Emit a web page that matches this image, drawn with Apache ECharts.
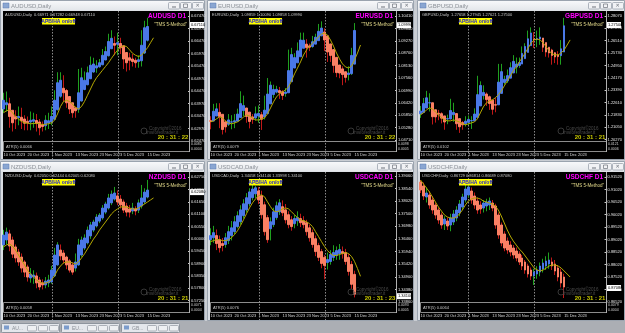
<!DOCTYPE html>
<html><head><meta charset="utf-8">
<script src="https://cdn.jsdelivr.net/npm/echarts@6/dist/echarts.min.js"></script>
<style>html,body{margin:0;padding:0;background:#c9cdd3;overflow:hidden}#c{width:625px;height:333px}</style>
</head><body><div id="c"></div>
<script>
// ---------- DATA ----------
const tickDates = ['10 Oct 2023','20 Oct 2023','1 Nov 2023','13 Nov 2023','23 Nov 2023','5 Dec 2023','15 Dec 2023'];
const monthStarts = [16, 38];

const audOpen  = [.6375,.6392,.6396,.6370,.6345,.6340,.6342,.6335,.6326,.6323,.6326,.6329,.6323,.6312,.6308,.6319,.6323,.6334,.6372,.6426,.6458,.6449,.6425,.6400,.6380,.6374,.6407,.6453,.6472,.6496,.6523,.6539,.6544,.6552,.6571,.6588,.6616,.6637,.6634,.6637,.6628,.6601,.6580,.6575,.6570,.6565,.6568,.6599,.6650];
const audClose = [.6410,.6400,.6345,.6320,.6335,.6345,.6328,.6318,.6320,.6330,.6332,.6318,.6300,.6305,.6330,.6328,.6345,.6410,.6480,.6490,.6440,.6400,.6375,.6360,.6368,.6440,.6500,.6490,.6520,.6550,.6555,.6548,.6560,.6590,.6605,.6645,.6658,.6630,.6640,.6620,.6575,.6560,.6570,.6565,.6560,.6572,.6630,.6700,.6705];
const audLow   = [.6360,.6365,.6300,.6285,.6295,.6310,.6295,.6290,.6290,.6290,.6300,.6285,.6270,.6285,.6290,.6295,.6310,.6330,.6370,.6420,.6405,.6380,.6355,.6340,.6340,.6360,.6405,.6450,.6470,.6495,.6520,.6520,.6540,.6550,.6570,.6585,.6615,.6590,.6590,.6595,.6535,.6525,.6530,.6545,.6540,.6540,.6545,.6595,.6645];
const audHigh  = [.6440,.6445,.6420,.6365,.6370,.6385,.6380,.6350,.6345,.6365,.6360,.6355,.6335,.6325,.6350,.6360,.6385,.6450,.6522,.6522,.6510,.6455,.6425,.6400,.6385,.6535,.6540,.6525,.6545,.6585,.6580,.6570,.6575,.6615,.6625,.6676,.6690,.6665,.6680,.6660,.6630,.6590,.6600,.6595,.6580,.6590,.6690,.6728,.6740];
const audMA    = [.6360,.6368,.6372,.6360,.6345,.6335,.6325,.6320,.6318,.6316,.6317,.6318,.6316,.6313,.6314,.6316,.6320,.6330,.6355,.6385,.6405,.6410,.6405,.6395,.6380,.6375,.6385,.6405,.6430,.6455,.6480,.6500,.6515,.6530,.6545,.6560,.6578,.6595,.6610,.6622,.6628,.6625,.6612,.6598,.6590,.6585,.6590,.6605,.6620,.6640,.6660];
const audTicks = [.6247,.6297,.6347,.6397,.6447,.6497,.6547,.6597,.6647,.6697,.6747];

const eurOpen  = [1.0560,1.0558,1.0581,1.0598,1.0589,1.0554,1.0543,1.0553,1.0554,1.0557,1.0574,1.0606,1.0618,1.0599,1.0577,1.0572,1.0581,1.0587,1.0577,1.0592,1.0637,1.0680,1.0691,1.0698,1.0693,1.0685,1.0688,1.0739,1.0802,1.0826,1.0854,1.0893,1.0912,1.0904,1.0901,1.0912,1.0928,1.0950,1.0968,1.0950,1.0913,1.0887,1.0851,1.0816,1.0798,1.0785,1.0772,1.0776,1.0820];
const eurClose = [1.0556,1.0603,1.0614,1.0579,1.0519,1.0531,1.0563,1.0554,1.0559,1.0590,1.0638,1.0629,1.0579,1.0556,1.0566,1.0591,1.0593,1.0566,1.0608,1.0682,1.0723,1.0703,1.0704,1.0688,1.0676,1.0691,1.0790,1.0864,1.0850,1.0881,1.0931,1.0930,1.0896,1.0898,1.0923,1.0944,1.0971,1.0986,1.0931,1.0876,1.0860,1.0814,1.0781,1.0779,1.0772,1.0759,1.0779,1.0860,1.0975];
const eurLow   = [1.0520,1.0575,1.0590,1.0525,1.0496,1.0505,1.0535,1.0520,1.0525,1.0565,1.0590,1.0580,1.0550,1.0524,1.0545,1.0560,1.0550,1.0517,1.0565,1.0620,1.0700,1.0665,1.0685,1.0660,1.0655,1.0670,1.0694,1.0830,1.0830,1.0840,1.0905,1.0905,1.0850,1.0880,1.0895,1.0925,1.0935,1.0960,1.0880,1.0830,1.0830,1.0780,1.0760,1.0755,1.0723,1.0735,1.0745,1.0770,1.0870];
const eurHigh  = [1.0580,1.0637,1.0640,1.0640,1.0540,1.0560,1.0590,1.0585,1.0590,1.0615,1.0695,1.0675,1.0610,1.0570,1.0590,1.0625,1.0630,1.0600,1.0675,1.0756,1.0740,1.0725,1.0720,1.0715,1.0700,1.0710,1.0887,1.0895,1.0870,1.0920,1.0965,1.0965,1.0935,1.0915,1.0950,1.0960,1.1005,1.1017,1.0985,1.0900,1.0890,1.0845,1.0805,1.0800,1.0810,1.0775,1.0810,1.0895,1.1009];
const eurMA    = [1.0554,1.0558,1.0568,1.0577,1.0572,1.0558,1.0549,1.0545,1.0549,1.0554,1.0563,1.0577,1.0586,1.0581,1.0572,1.0563,1.0563,1.0568,1.0572,1.0591,1.0618,1.0646,1.0669,1.0683,1.0692,1.0701,1.0715,1.0742,1.0775,1.0802,1.0830,1.0862,1.0885,1.0903,1.0917,1.0931,1.0945,1.0959,1.0963,1.0954,1.0931,1.0903,1.0871,1.0844,1.0821,1.0807,1.0802,1.0811,1.0839,1.0871,1.0908];
const eurTicks = [1.0471,1.0528,1.0585,1.0642,1.0699,1.0756,1.0813,1.0870,1.0927,1.0984,1.1041];

const gbpOpen  = [1.2190,1.2199,1.2227,1.2259,1.2260,1.2216,1.2194,1.2191,1.2177,1.2158,1.2158,1.2185,1.2192,1.2160,1.2135,1.2128,1.2136,1.2146,1.2146,1.2168,1.2240,1.2305,1.2315,1.2298,1.2277,1.2248,1.2247,1.2319,1.2388,1.2398,1.2415,1.2448,1.2485,1.2495,1.2504,1.2538,1.2577,1.2620,1.2660,1.2659,1.2662,1.2668,1.2639,1.2610,1.2592,1.2575,1.2562,1.2557,1.2580];
const gbpClose = [1.2208,1.2255,1.2291,1.2260,1.2172,1.2171,1.2188,1.2163,1.2139,1.2160,1.2211,1.2199,1.2128,1.2109,1.2121,1.2144,1.2155,1.2148,1.2189,1.2311,1.2369,1.2325,1.2280,1.2255,1.2219,1.2245,1.2390,1.2456,1.2408,1.2431,1.2481,1.2521,1.2504,1.2513,1.2571,1.2615,1.2663,1.2700,1.2658,1.2664,1.2674,1.2610,1.2580,1.2574,1.2558,1.2549,1.2551,1.2600,1.2745];
const gbpLow   = [1.2165,1.2220,1.2250,1.2205,1.2123,1.2135,1.2150,1.2130,1.2090,1.2125,1.2155,1.2140,1.2090,1.2070,1.2090,1.2110,1.2120,1.2095,1.2150,1.2215,1.2335,1.2280,1.2240,1.2215,1.2185,1.2200,1.2275,1.2405,1.2375,1.2385,1.2450,1.2490,1.2445,1.2480,1.2530,1.2595,1.2610,1.2665,1.2605,1.2610,1.2625,1.2580,1.2550,1.2545,1.2500,1.2510,1.2500,1.2500,1.2620];
const gbpHigh  = [1.2240,1.2290,1.2335,1.2320,1.2215,1.2210,1.2215,1.2200,1.2170,1.2185,1.2285,1.2260,1.2165,1.2135,1.2145,1.2175,1.2180,1.2175,1.2225,1.2430,1.2395,1.2370,1.2325,1.2305,1.2250,1.2290,1.2505,1.2505,1.2430,1.2470,1.2515,1.2560,1.2545,1.2545,1.2615,1.2635,1.2715,1.2735,1.2705,1.2715,1.2735,1.2640,1.2615,1.2605,1.2600,1.2580,1.2585,1.2655,1.2795];
const gbpMA    = [1.2184,1.2196,1.2215,1.2228,1.2221,1.2202,1.2184,1.2165,1.2152,1.2146,1.2146,1.2152,1.2146,1.2139,1.2127,1.2121,1.2127,1.2133,1.2139,1.2158,1.2196,1.2234,1.2259,1.2272,1.2278,1.2291,1.2310,1.2335,1.2366,1.2398,1.2429,1.2461,1.2486,1.2517,1.2543,1.2574,1.2606,1.2637,1.2656,1.2662,1.2656,1.2637,1.2612,1.2587,1.2568,1.2562,1.2562,1.2574,1.2593,1.2624,1.2656];
const gbpTicks = [1.2027,1.2105,1.2183,1.2261,1.2339,1.2417,1.2495,1.2573,1.2651,1.2729,1.2807];

const nzdOpen  = [.5973,.5995,.6022,.5995,.5964,.5941,.5919,.5897,.5875,.5826,.5830,.5835,.5817,.5804,.5795,.5804,.5808,.5835,.5884,.5950,.5937,.5919,.5902,.5884,.5870,.5884,.5928,.5959,.5982,.6013,.6039,.6057,.6079,.6093,.6119,.6137,.6160,.6177,.6191,.6177,.6164,.6146,.6133,.6124,.6133,.6128,.6146,.6164,.6186];
const nzdClose = [.6017,.6030,.5968,.5932,.5915,.5897,.5870,.5852,.5830,.5843,.5839,.5804,.5786,.5795,.5812,.5817,.5861,.5928,.5973,.5924,.5906,.5884,.5861,.5852,.5897,.5973,.5995,.6004,.6039,.6062,.6075,.6097,.6106,.6137,.6155,.6182,.6199,.6204,.6164,.6151,.6128,.6119,.6119,.6137,.6124,.6160,.6182,.6208,.6217];
const nzdLow   = [.5950,.5975,.5945,.5915,.5895,.5880,.5850,.5830,.5810,.5805,.5800,.5780,.5772,.5775,.5780,.5785,.5800,.5830,.5880,.5905,.5890,.5865,.5850,.5840,.5855,.5880,.5920,.5950,.5975,.6000,.6030,.6050,.6070,.6085,.6110,.6130,.6150,.6170,.6150,.6135,.6115,.6100,.6095,.6110,.6105,.6115,.6135,.6155,.6180];
const nzdHigh  = [.6040,.6050,.6040,.6010,.5975,.5955,.5935,.5905,.5885,.5870,.5860,.5850,.5830,.5820,.5830,.5840,.5880,.5960,.5985,.5975,.5950,.5925,.5910,.5895,.5935,.6000,.6010,.6020,.6055,.6075,.6085,.6110,.6115,.6150,.6165,.6200,.6215,.6231,.6215,.6195,.6175,.6160,.6150,.6160,.6145,.6175,.6240,.6225,.6262];
const nzdMA    = [.5964,.5973,.5977,.5968,.5950,.5928,.5906,.5884,.5861,.5844,.5830,.5817,.5808,.5803,.5803,.5808,.5817,.5835,.5861,.5879,.5893,.5897,.5897,.5893,.5888,.5897,.5915,.5933,.5955,.5977,.5999,.6017,.6039,.6057,.6075,.6093,.6111,.6124,.6133,.6142,.6142,.6142,.6137,.6133,.6133,.6137,.6146,.6155,.6164,.6173,.6182];
const nzdTicks = [.5725,.5780,.5835,.5890,.5945,.6000,.6055,.6110,.6165,.6220,.6275];

const cadOpen  = [1.3643,1.3651,1.3660,1.3643,1.3627,1.3623,1.3639,1.3660,1.3676,1.3697,1.3717,1.3742,1.3766,1.3791,1.3816,1.3832,1.3844,1.3824,1.3787,1.3734,1.3688,1.3705,1.3734,1.3758,1.3779,1.3766,1.3746,1.3725,1.3709,1.3721,1.3730,1.3721,1.3713,1.3692,1.3672,1.3647,1.3619,1.3594,1.3570,1.3549,1.3553,1.3570,1.3578,1.3586,1.3594,1.3590,1.3570,1.3541,1.3500];
const cadClose = [1.3660,1.3672,1.3627,1.3610,1.3619,1.3651,1.3676,1.3692,1.3717,1.3742,1.3766,1.3791,1.3816,1.3840,1.3852,1.3857,1.3807,1.3746,1.3676,1.3643,1.3717,1.3758,1.3783,1.3795,1.3754,1.3725,1.3705,1.3697,1.3730,1.3734,1.3713,1.3705,1.3676,1.3651,1.3623,1.3594,1.3570,1.3545,1.3537,1.3561,1.3582,1.3590,1.3598,1.3602,1.3586,1.3553,1.3512,1.3459,1.3418];
const cadLow   = [1.3620,1.3630,1.3600,1.3590,1.3595,1.3610,1.3625,1.3640,1.3665,1.3690,1.3705,1.3730,1.3755,1.3780,1.3805,1.3815,1.3790,1.3730,1.3660,1.3630,1.3640,1.3695,1.3725,1.3745,1.3740,1.3710,1.3690,1.3680,1.3690,1.3700,1.3695,1.3690,1.3660,1.3635,1.3610,1.3575,1.3555,1.3525,1.3480,1.3520,1.3540,1.3555,1.3560,1.3560,1.3565,1.3540,1.3495,1.3440,1.3405];
const cadHigh  = [1.3690,1.3700,1.3685,1.3660,1.3650,1.3670,1.3700,1.3720,1.3740,1.3760,1.3785,1.3810,1.3835,1.3855,1.3869,1.3865,1.3860,1.3845,1.3800,1.3745,1.3735,1.3775,1.3800,1.3810,1.3805,1.3790,1.3760,1.3740,1.3745,1.3760,1.3750,1.3740,1.3725,1.3705,1.3685,1.3660,1.3630,1.3605,1.3580,1.3590,1.3600,1.3620,1.3615,1.3625,1.3615,1.3605,1.3585,1.3555,1.3515];
const cadMA    = [1.3635,1.3639,1.3643,1.3643,1.3639,1.3639,1.3643,1.3651,1.3664,1.3680,1.3701,1.3725,1.3750,1.3774,1.3795,1.3811,1.3824,1.3828,1.3820,1.3799,1.3779,1.3762,1.3758,1.3762,1.3770,1.3774,1.3770,1.3758,1.3746,1.3734,1.3725,1.3721,1.3717,1.3709,1.3697,1.3676,1.3656,1.3635,1.3615,1.3598,1.3586,1.3578,1.3578,1.3582,1.3586,1.3590,1.3586,1.3574,1.3553,1.3524,1.3492];
const cadTicks = [1.3386,1.3438,1.3490,1.3542,1.3594,1.3646,1.3698,1.3750,1.3802,1.3854,1.3906];

const chfOpen  = [.9132,.9116,.9072,.9080,.9060,.9040,.9020,.9000,.8964,.8976,.8960,.8972,.8988,.9008,.9032,.9060,.9080,.9096,.9076,.9056,.9040,.9028,.9036,.9040,.9048,.9036,.9000,.8960,.8924,.8896,.8880,.8868,.8856,.8844,.8828,.8812,.8796,.8780,.8756,.8764,.8772,.8784,.8796,.8804,.8812,.8804,.8788,.8772,.8752];
const chfClose = [.9100,.9076,.9088,.9040,.9020,.9000,.8980,.8960,.8984,.8956,.8988,.9004,.9020,.9044,.9072,.9104,.9112,.9060,.9040,.9020,.9024,.9048,.9052,.9056,.9028,.8960,.8920,.8888,.8868,.8860,.8852,.8840,.8828,.8812,.8796,.8780,.8764,.8756,.8772,.8780,.8796,.8808,.8816,.8820,.8796,.8776,.8752,.8728,.8712];
const chfLow   = [.9088,.9060,.9050,.9025,.9005,.8985,.8965,.8945,.8940,.8940,.8935,.8960,.8975,.8995,.9020,.9050,.9070,.9045,.9025,.9005,.9005,.9010,.9015,.9020,.9015,.8945,.8905,.8875,.8855,.8845,.8835,.8825,.8815,.8800,.8780,.8765,.8750,.8740,.8720,.8745,.8755,.8770,.8780,.8785,.8780,.8760,.8735,.8710,.8668];
const chfHigh  = [.9140,.9130,.9110,.9095,.9075,.9050,.9030,.9010,.8995,.8990,.9005,.9020,.9035,.9060,.9085,.9120,.9120,.9110,.9090,.9070,.9055,.9060,.9065,.9070,.9060,.9045,.9010,.8970,.8935,.8910,.8895,.8880,.8870,.8855,.8840,.8820,.8805,.8790,.8785,.8795,.8810,.8825,.8835,.8850,.8830,.8820,.8800,.8785,.8765];
const chfMA    = [.9140,.9124,.9108,.9092,.9072,.9052,.9032,.9016,.9000,.8992,.8988,.8988,.8992,.9004,.9020,.9040,.9056,.9064,.9068,.9068,.9064,.9056,.9052,.9048,.9044,.9036,.9020,.8996,.8968,.8940,.8916,.8896,.8880,.8864,.8852,.8836,.8820,.8804,.8788,.8780,.8776,.8780,.8788,.8796,.8800,.8800,.8796,.8788,.8776,.8764,.8752];
const chfTicks = [.8652,.8702,.8752,.8802,.8852,.8902,.8952,.9002,.9052,.9102,.9152];

const symbols   = ['AUDUSD','EURUSD','GBPUSD','NZDUSD','USDCAD','USDCHF'];
const lastPrice = [0.6711, 1.0999, 1.2750, 0.6208, 1.3410, 0.8708];
const headerOHLC = ['0.66971 0.67282 0.66948 0.67110','1.09859 1.10090 1.09858 1.09990','1.27658 1.27945 1.27621 1.27500','0.62050 0.62444 0.62005 0.62080','1.34058 1.34146 1.33998 1.34100','0.86729 0.86814 0.86689 0.87080'];
const atrText   = ['ATR(5) 0.0066','ATR(5) 0.0079','ATR(5) 0.0102','ATR(5) 0.0058','ATR(5) 0.0076','ATR(5) 0.0064'];
const atrAxis   = [['0.0082','0.0004'],['0.0098','0.0005'],['0.0121','0.0006'],['0.0071','0.0004'],['0.0093','0.0005'],['0.0079','0.0004']];
const timers    = ['20 : 31 : 22','20 : 31 : 22','20 : 31 : 21','20 : 31 : 21','20 : 31 : 23','20 : 31 : 21'];
const yRange    = [[0.6247,0.6763],[1.0466,1.1060],[1.2019,1.2832],[0.5719,0.6293],[1.3386,1.3918],[0.8652,0.9168]];
const tabTitles = ['AU...','EU...','GB...'];

// ---------- BUILD ----------
const panels = [
  {o:audOpen,c:audClose,l:audLow,h:audHigh,ma:audMA,t:audTicks},
  {o:eurOpen,c:eurClose,l:eurLow,h:eurHigh,ma:eurMA,t:eurTicks},
  {o:gbpOpen,c:gbpClose,l:gbpLow,h:gbpHigh,ma:gbpMA,t:gbpTicks},
  {o:nzdOpen,c:nzdClose,l:nzdLow,h:nzdHigh,ma:nzdMA,t:nzdTicks},
  {o:cadOpen,c:cadClose,l:cadLow,h:cadHigh,ma:cadMA,t:cadTicks},
  {o:chfOpen,c:chfClose,l:chfLow,h:chfHigh,ma:chfMA,t:chfTicks}
];
const layout = [
  {ox:0,oy:0,w:205},{ox:207,oy:0,w:207},{ox:417,oy:0,w:208},
  {ox:0,oy:161,w:205},{ox:207,oy:161,w:207},{ox:417,oy:161,w:208}
];
const SLOTS = 62;
const cats = Array.from({length:SLOTS},(_,k)=>String(k));
const BLUE='#4a78e6', SALMON='#fa8064', WUP='#1fa01f', WDN='#c01818', MAC='#b4a800';
const FONT='Arial';

const chart = echarts.init(document.getElementById('c'), null, {renderer:'canvas'});
const grids=[], xAxes=[], yAxes=[], series=[];
panels.forEach((p,i)=>{
  const L = layout[i];
  grids.push({left:L.ox+2, top:L.oy+12, width:186, height:129, containLabel:false});
  xAxes.push({type:'category', gridIndex:i, data:cats, boundaryGap:true,
    axisLine:{show:false}, axisTick:{show:false}, splitLine:{show:false},
    axisLabel:{show:true, interval:0, hideOverlap:false, fontSize:4, color:'#d8d8d8', fontFamily:FONT, align:'left', margin:12,
      formatter:(v,idx)=> (idx%8===0 && tickDates[idx/8]) ? tickDates[idx/8] : ''}});
  yAxes.push({type:'value', gridIndex:i, position:'right', min:yRange[i][0], max:yRange[i][1],
    splitLine:{show:false}, axisLine:{show:false},
    axisTick:{show:true, customValues:p.t, length:2, lineStyle:{color:'#c8c8c8', width:1}},
    axisLabel:{customValues:p.t, formatter:v=>v.toFixed(5), fontSize:4, color:'#e6e6e6', fontFamily:FONT, margin:3}});
  const wick = p.o.map((o,k)=>[o,p.c[k],p.l[k],p.h[k]]);
  const body = p.o.map((o,k)=>[o,p.c[k],Math.min(o,p.c[k]),Math.max(o,p.c[k])]);
  series.push({type:'candlestick', xAxisIndex:i, yAxisIndex:i, data:wick, barWidth:1, z:2, silent:true,
    itemStyle:{color:WUP,color0:WDN,borderColor:WUP,borderColor0:WDN,borderColorDoji:WUP,borderWidth:1}});
  series.push({type:'candlestick', xAxisIndex:i, yAxisIndex:i, data:body, barWidth:2, z:3, silent:true,
    itemStyle:{color:BLUE,color0:SALMON,borderColor:BLUE,borderColor0:SALMON,borderColorDoji:BLUE,borderWidth:1}});
  series.push({type:'line', xAxisIndex:i, yAxisIndex:i, data:p.ma, symbol:'none', showSymbol:false, z:4, silent:true,
    lineStyle:{color:MAC,width:1}});
});

chart.setOption({animation:false, backgroundColor:'transparent', grid:grids, xAxis:xAxes, yAxis:yAxes, series:series});

// ---------- CHROME / TEXT ----------
const g = [];
g.push({type:'rect', shape:{x:0,y:321,width:625,height:12}, style:{fill:'#abaeb4'}, z:0});
tabTitles.forEach((t,k)=>{
  const x = 1 + k*60;
  g.push({type:'rect', shape:{x:x+0.5,y:323.5,width:58,height:9,r:1}, style:{fill:'#e4e7ec',stroke:'#8d949d',lineWidth:1}, z:0});
  g.push({type:'rect', shape:{x:x+3,y:325.5,width:5,height:4}, style:{fill:'#7c9ccc'}, z:1});
  g.push({type:'text', style:{x:x+11,y:328.5,text:t,fontSize:5,fill:'#8a8f96',fontFamily:FONT,verticalAlign:'middle'}, z:1});
  [26,37,48].forEach(d=>g.push({type:'rect', shape:{x:x+d+0.5,y:325.5,width:9,height:5.5,r:1}, style:{fill:'#eef0f3',stroke:'#9aa1aa',lineWidth:0.8}, z:1}));
});
panels.forEach((p,i)=>{
  const {ox,oy,w} = layout[i];
  g.push({type:'rect', shape:{x:ox+0.5,y:oy+0.5,width:w-1,height:159}, style:{fill:'#d9dde3',stroke:'#9aa3ae',lineWidth:1}, z:0});
  g.push({type:'rect', shape:{x:ox+1,y:oy+1,width:w-2,height:9.5},
    style:{fill:new echarts.graphic.LinearGradient(0,0,0,1,[{offset:0,color:'#f7f8fa'},{offset:1,color:'#e3e6ea'}])}, z:0});
  g.push({type:'rect', shape:{x:ox+3,y:oy+3,width:6,height:5}, style:{fill:'#8aa6d2',stroke:'#5b7bb0',lineWidth:0.5}, z:1});
  g.push({type:'text', style:{x:ox+11,y:oy+6,text:symbols[i]+',Daily',fontSize:6,fill:'#8c9198',fontFamily:FONT,verticalAlign:'middle'}, z:1});
  [37,25,13].forEach((d,k)=>{
    g.push({type:'rect', shape:{x:ox+w-d+0.5,y:oy+2.5,width:11,height:6.5,r:1}, style:{fill:'#f1f2f5',stroke:'#9ca3ad',lineWidth:0.8}, z:1});
  });
  g.push({type:'rect', shape:{x:ox+w-33,y:oy+6.5,width:4,height:1}, style:{fill:'#6d737b'}, z:2});
  g.push({type:'rect', shape:{x:ox+w-21.5,y:oy+4,width:4,height:3.5}, style:{fill:'none',stroke:'#6d737b',lineWidth:0.7}, z:2});
  g.push({type:'text', style:{x:ox+w-7.5,y:oy+6,text:'✕',fontSize:5,fill:'#6d737b',align:'center',verticalAlign:'middle',fontFamily:'DejaVu Sans'}, z:2});
  // black chart area
  g.push({type:'rect', shape:{x:ox+3,y:oy+11,width:w-4,height:148}, style:{fill:'#000000'}, z:0});
  // header
  g.push({type:'text', style:{x:ox+5,y:oy+15,text:symbols[i]+',Daily  '+headerOHLC[i],fontSize:4,fill:'#c8c8c8',fontFamily:FONT,verticalAlign:'middle'}, z:20});
  // APB box
  g.push({type:'rect', shape:{x:ox+42,y:oy+18,width:33,height:6.5}, style:{fill:'#ffff00'}, z:20});
  g.push({type:'text', style:{x:ox+58.5,y:oy+21.4,text:'APB/HA on/off',fontSize:5,fontWeight:'bold',fill:'#1a1ad8',fontFamily:FONT,align:'center',verticalAlign:'middle'}, z:21});
  // symbol labels
  g.push({type:'text', style:{x:ox+186,y:oy+16.5,text:symbols[i]+' D1',fontSize:6.5,fontWeight:'bold',fill:'#ff00ff',fontFamily:FONT,align:'right',verticalAlign:'middle'}, z:20});
  g.push({type:'text', style:{x:ox+187,y:oy+25,text:'"TMS 5-Method"',fontSize:4.5,fill:'#e6dc8c',fontFamily:FONT,align:'right',verticalAlign:'middle'}, z:20});
  // copyright & timer
  g.push({type:'circle', shape:{cx:ox+144,cy:oy+131,r:3}, style:{fill:'none',stroke:'#444',lineWidth:0.8}, z:20});
  g.push({type:'text', style:{x:ox+149,y:oy+128.5,text:'Copyright©2016',fontSize:4.5,fill:'#4a4a4a',fontFamily:FONT,verticalAlign:'middle'}, z:20});
  g.push({type:'text', style:{x:ox+146,y:oy+133,text:'tmsforextrader.it',fontSize:4.5,fill:'#4a4a4a',fontFamily:FONT,verticalAlign:'middle'}, z:20});
  g.push({type:'text', style:{x:ox+173,y:oy+137.5,text:timers[i],fontSize:6,fontWeight:'bold',fill:'#c8c800',fontFamily:FONT,align:'center',verticalAlign:'middle'}, z:20});
  // ATR box & axis lines
  g.push({type:'rect', shape:{x:ox+3.5,y:oy+141.5,width:186,height:10}, style:{fill:'none',stroke:'#8c8c8c',lineWidth:1}, z:20});
  g.push({type:'text', style:{x:ox+6,y:oy+146.5,text:atrText[i],fontSize:4,fill:'#c8c8c8',fontFamily:FONT,verticalAlign:'middle'}, z:20});
  g.push({type:'line', shape:{x1:ox+189.5,y1:oy+11,x2:ox+189.5,y2:oy+152}, style:{stroke:'#b0b0b0',lineWidth:1}, z:20});
  g.push({type:'text', style:{x:ox+191,y:oy+144.5,text:atrAxis[i][0],fontSize:3.5,fill:'#d0d0d0',fontFamily:FONT,verticalAlign:'middle'}, z:20});
  g.push({type:'text', style:{x:ox+191,y:oy+149.5,text:atrAxis[i][1],fontSize:3.5,fill:'#d0d0d0',fontFamily:FONT,verticalAlign:'middle'}, z:20});
  // period separators through the library's x scale
  monthStarts.forEach(idx=>{
    const x = Math.round(chart.convertToPixel({xAxisIndex:i}, idx)) + 0.5;
    g.push({type:'line', shape:{x1:x,y1:oy+11,x2:x,y2:oy+159}, style:{stroke:'#8a8a8a',lineWidth:1,lineDash:[1.5,1.5]}, z:1});
  });
  // current price box through the library's y scale
  const yp = chart.convertToPixel({yAxisIndex:i}, lastPrice[i]);
  g.push({type:'rect', shape:{x:ox+190,y:yp-3,width:14,height:6}, style:{fill:'#ffffff'}, z:22});
  g.push({type:'text', style:{x:ox+191,y:yp,text:lastPrice[i].toFixed(5),fontSize:4,fill:'#000000',fontFamily:FONT,verticalAlign:'middle'}, z:23});
});
chart.setOption({graphic:{elements:g}});
</script></body></html>
